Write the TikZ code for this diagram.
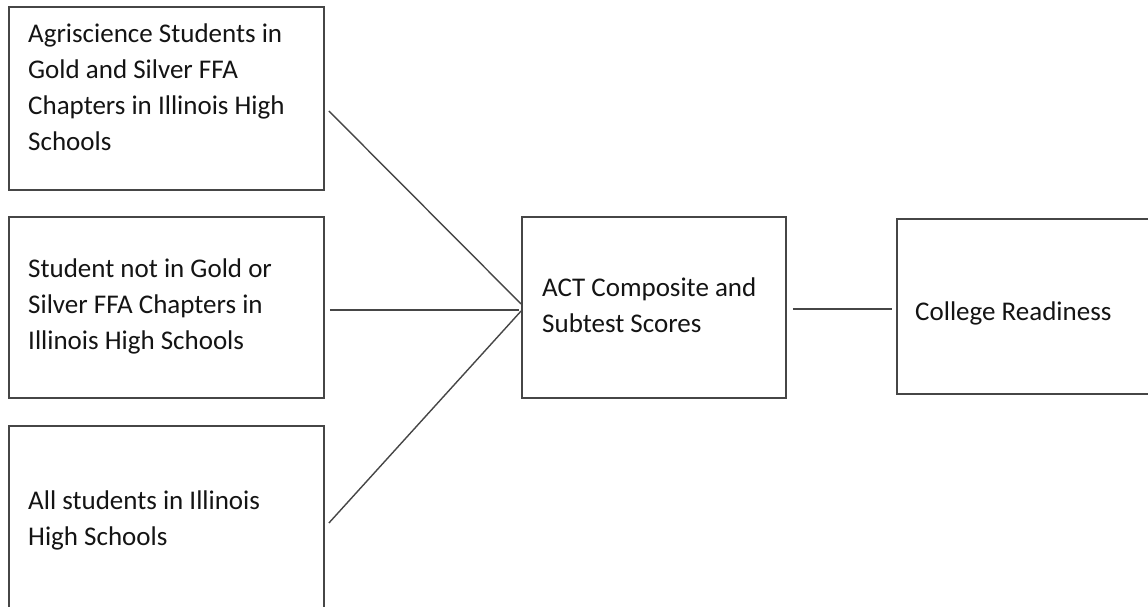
\documentclass[tikz,border=0pt]{standalone}
\usepackage{fontspec}
\setmainfont{Carlito}
\usetikzlibrary{calc}
\definecolor{edge}{RGB}{70,70,70}
\definecolor{ink}{RGB}{20,20,20}
\tikzset{
  box/.style={draw=edge, line width=1.8pt, rectangle, inner sep=0pt},
  lbl/.style={anchor=base west, inner sep=0pt, text=ink, font=\fontsize{27}{36}\selectfont},
  link/.style={draw=edge, line width=1.4pt}
}
\begin{document}
\begin{tikzpicture}[x=1pt,y=-1pt]
\useasboundingbox (0,0) rectangle (1148,607);
\clip (0,0) rectangle (1148,607);
\fill[white] (0,0) rectangle (1148,607);
\node[box, minimum width=315pt, minimum height=183pt] (b1) at (166.5,98.5) {};
\node[box, minimum width=315pt, minimum height=181pt] (b2) at (166.5,307.5) {};
\node[box, minimum width=315pt, minimum height=186pt] (b3) at (166.5,519) {};
\node[box, minimum width=264pt, minimum height=181pt] (act) at (654,307.5) {};
\node[box, minimum width=258pt, minimum height=175pt] (col) at (1026,306.5) {};

\node[lbl] (t1) at (28,43) {\parbox[t]{300pt}{Agriscience Students in\\Gold and Silver FFA\\Chapters in Illinois High\\Schools}};
\node[lbl] (t2) at (28,277) {\parbox[t]{300pt}{Student not in Gold or\\Silver FFA Chapters in\\Illinois High Schools}};
\node[lbl] (t3) at (28,509) {\parbox[t]{300pt}{All students in Illinois\\High Schools}};
\node[lbl] (t4) at (542,296) {\parbox[t]{260pt}{ACT Composite and\\Subtest Scores}};
\node[lbl] (t5) at (915,320) {College Readiness};

\draw[link] ([xshift=4pt,yshift=-12.5pt]b1.east) -- ([yshift=3.5pt]act.west);
\draw[link] ([xshift=5pt,yshift=-2.5pt]b2.east) -- ([xshift=-2pt,yshift=-2.5pt]act.west);
\draw[link] ([xshift=4pt,yshift=-4pt]b3.east) -- ([yshift=-3.5pt]act.west);
\draw[link] ([xshift=6pt,yshift=-1.5pt]act.east) -- ([xshift=-4pt,yshift=-1.5pt]act.east -| col.west);
\end{tikzpicture}
\end{document}
